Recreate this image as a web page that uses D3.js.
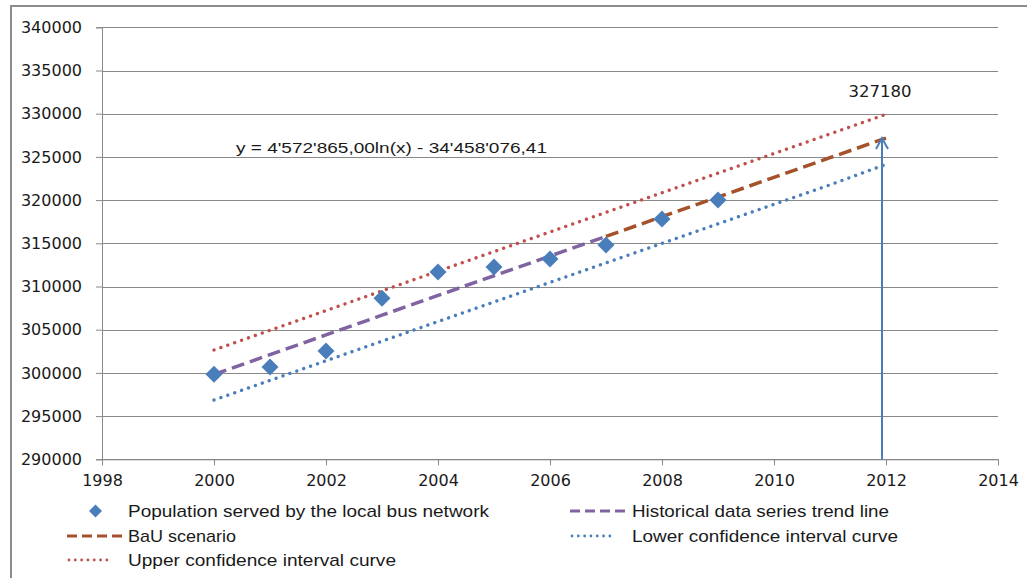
<!DOCTYPE html>
<html>
<head>
<meta charset="utf-8">
<script src="https://cdn.jsdelivr.net/npm/d3@7/dist/d3.min.js"></script>
<style>
  html, body { margin: 0; padding: 0; background: #fff; }
  svg { display: block; }
</style>
</head>
<body>
<svg id="chart" width="1027" height="578"></svg>
<script>
// ---- Data ----
const years = [2000, 2001, 2002, 2003, 2004, 2005, 2006, 2007, 2008, 2009];
const population = [299850, 300680, 302530, 308650, 311680, 312250, 313180, 314800, 317800, 320000];

const trendYears = [2000, 2001, 2002, 2003, 2004, 2005, 2006, 2007];
const trendValues = [299824, 302110, 304395, 306679, 308962, 311243, 313523, 315801];

const bauYears = [2007, 2008, 2009, 2010, 2011, 2012];
const bauValues = [315801, 318079, 320356, 322632, 324906, 327180];

const ciYears = [2000, 2001, 2002, 2003, 2004, 2005, 2006, 2007, 2008, 2009, 2010, 2011, 2012];
const upperValues = [302650, 304930, 307210, 309490, 311770, 314040, 316310, 318580, 320850, 323120, 325390, 327660, 329930];
const lowerValues = [296860, 299130, 301400, 303670, 305940, 308210, 310470, 312730, 314990, 317250, 319510, 321760, 324140];

const xTicks = [1998, 2000, 2002, 2004, 2006, 2008, 2010, 2012, 2014];
const yTicks = [290000, 295000, 300000, 305000, 310000, 315000, 320000, 325000, 330000, 335000, 340000];

const annotationYear = 2012;
const annotationValue = 327180;
const equationText = "y = 4'572'865,00ln(x) - 34'458'076,41";

const legendItems = [
  { label: "Population served by the local bus network", type: "diamond", color: "#4a7ebb" },
  { label: "Historical data series trend line", type: "dash", color: "#8064a2" },
  { label: "BaU scenario", type: "dash", color: "#a5522a" },
  { label: "Lower confidence interval curve", type: "dot", color: "#4a7ebb" },
  { label: "Upper confidence interval curve", type: "dot", color: "#c0504d" }
];

// ---- Layout ----
const svg = d3.select("#chart");
const x = d3.scaleLinear().domain([1998, 2014]).range([102, 998]);
const y = d3.scaleLinear().domain([290000, 340000]).range([459.3, 27.3]);
const gridColor = "#888888";
const tickFont = "'DejaVu Sans', Verdana, sans-serif";
const textFont = "'Liberation Sans', Arial, sans-serif";

// outer border
svg.append("rect").attr("x", 11).attr("y", 6).attr("width", 1030).attr("height", 580)
  .attr("fill", "none").attr("stroke", "#8c8c8c").attr("stroke-width", 2);

// gridlines
svg.append("g").selectAll("line").data(yTicks).join("line")
  .attr("x1", x(1998)).attr("x2", x(2014))
  .attr("y1", d => Math.round(y(d)) + 0.5).attr("y2", d => Math.round(y(d)) + 0.5)
  .attr("stroke", gridColor).attr("stroke-width", 1);

// Y axis
const yAxis = d3.axisLeft(y).tickValues(yTicks).tickSize(6).tickPadding(14).tickFormat(d3.format("d"));
const gy = svg.append("g").attr("transform", `translate(${x(1998)},0)`).call(yAxis);
gy.select(".domain").attr("stroke", gridColor);
gy.selectAll(".tick line").attr("stroke", gridColor);
gy.selectAll(".tick text").attr("font-family", tickFont).attr("font-size", 16).attr("fill", "#1a1a1a");

// X axis
const xAxis = d3.axisBottom(x).tickValues(xTicks).tickSize(6).tickPadding(9).tickFormat(d3.format("d"));
const gx = svg.append("g").attr("transform", `translate(0,${y(290000)})`).call(xAxis);
gx.select(".domain").attr("stroke", gridColor);
gx.selectAll(".tick line").attr("stroke", gridColor);
gx.selectAll(".tick text").attr("font-family", tickFont).attr("font-size", 16).attr("fill", "#1a1a1a");

const line = d3.line().x(d => x(d[0])).y(d => y(d[1]));

// confidence curves (dotted)
svg.append("path").datum(d3.zip(ciYears, upperValues)).attr("d", line)
  .attr("fill", "none").attr("stroke", "#c0504d").attr("stroke-width", 3.4)
  .attr("stroke-linecap", "round").attr("stroke-dasharray", "0.01 7.3");
svg.append("path").datum(d3.zip(ciYears, lowerValues)).attr("d", line)
  .attr("fill", "none").attr("stroke", "#4a7ebb").attr("stroke-width", 3.4)
  .attr("stroke-linecap", "round").attr("stroke-dasharray", "0.01 7.3");

// trend line and BaU (dashed)
svg.append("path").datum(d3.zip(trendYears, trendValues)).attr("d", line)
  .attr("fill", "none").attr("stroke", "#8064a2").attr("stroke-width", 3.5)
  .attr("stroke-dasharray", "13 6");
svg.append("path").datum(d3.zip(bauYears, bauValues)).attr("d", line)
  .attr("fill", "none").attr("stroke", "#a5522a").attr("stroke-width", 3.5)
  .attr("stroke-dasharray", "13 6");

// diamonds
const diamond = (cx, cy, r) => `M${cx},${cy - r}L${cx + r},${cy}L${cx},${cy + r}L${cx - r},${cy}Z`;
svg.append("g").selectAll("path").data(d3.zip(years, population)).join("path")
  .attr("d", d => diamond(x(d[0]), y(d[1]), 8.5))
  .attr("fill", "#4a7ebb");

// annotation arrow
const ax = x(annotationYear) - 4, ay = y(annotationValue);
svg.append("line").attr("x1", ax).attr("x2", ax).attr("y1", y(290000)).attr("y2", ay)
  .attr("stroke", "#4a7ebb").attr("stroke-width", 2);
svg.append("path").attr("d", `M${ax - 6},${ay + 11}L${ax},${ay}L${ax + 6},${ay + 11}`)
  .attr("fill", "none").attr("stroke", "#4a7ebb").attr("stroke-width", 2);
svg.append("text").attr("x", ax - 2).attr("y", y(annotationValue) - 41)
  .attr("text-anchor", "middle").attr("font-family", tickFont).attr("font-size", 16.5)
  .attr("fill", "#1a1a1a").text(d3.format("d")(annotationValue));

// equation
svg.append("text").attr("x", 236).attr("y", 153).attr("font-family", textFont)
  .attr("font-size", 15.5).attr("fill", "#1a1a1a")
  .attr("textLength", 311).attr("lengthAdjust", "spacingAndGlyphs").text(equationText);

// legend
const legendPos = [
  { sx: 67, tx: 128, cy: 511, w: 361 },
  { sx: 570, tx: 632, cy: 511, w: 257 },
  { sx: 67, tx: 128, cy: 536, w: 108 },
  { sx: 570, tx: 632, cy: 536, w: 266 },
  { sx: 67, tx: 128, cy: 560, w: 268 }
];
const lg = svg.append("g");
legendItems.forEach((item, i) => {
  const p = legendPos[i];
  if (item.type === "diamond") {
    lg.append("path").attr("d", diamond(p.sx + 28.5, p.cy, 6.5)).attr("fill", item.color);
  } else if (item.type === "dash") {
    lg.append("line").attr("x1", p.sx).attr("x2", p.sx + 56).attr("y1", p.cy).attr("y2", p.cy)
      .attr("stroke", item.color).attr("stroke-width", 3).attr("stroke-dasharray", "10 5");
  } else {
    lg.append("line").attr("x1", p.sx + 2).attr("x2", p.sx + 44).attr("y1", p.cy).attr("y2", p.cy)
      .attr("stroke", item.color).attr("stroke-width", 2.8).attr("stroke-linecap", "round")
      .attr("stroke-dasharray", "0.01 6.3");
  }
  lg.append("text").attr("x", p.tx).attr("y", p.cy + 6).attr("font-family", textFont)
    .attr("font-size", 17).attr("fill", "#1a1a1a")
    .attr("textLength", p.w).attr("lengthAdjust", "spacingAndGlyphs").text(item.label);
});
</script>
</body>
</html>
